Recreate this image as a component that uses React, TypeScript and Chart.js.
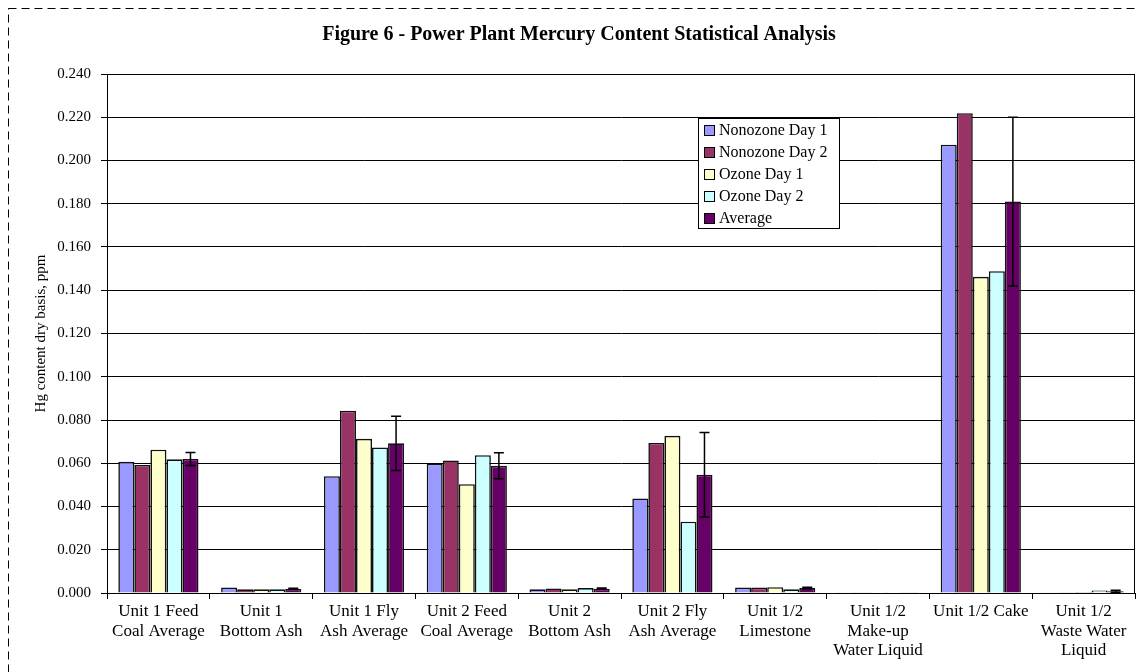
import React, { useEffect, useRef } from "react";
import { Chart, registerables } from "chart.js";

Chart.register(...registerables);

const categories: string[][] = [
  ["Unit 1 Feed", "Coal Average"],
  ["Unit 1", "Bottom Ash"],
  ["Unit 1 Fly", "Ash Average"],
  ["Unit 2 Feed", "Coal Average"],
  ["Unit 2", "Bottom Ash"],
  ["Unit 2 Fly", "Ash Average"],
  ["Unit 1/2", "Limestone"],
  ["Unit 1/2", "Make-up", "Water Liquid"],
  ["Unit 1/2 Cake"],
  ["Unit 1/2", "Waste Water", "Liquid"],
];

const nonozoneDay1 = [0.0607, 0.0025, 0.054, 0.0598, 0.0017, 0.0437, 0.0025, 0.0001, 0.2073, 0.0001];
const nonozoneDay2 = [0.0592, 0.0017, 0.0843, 0.0613, 0.0021, 0.0694, 0.0025, 0.0001, 0.2219, 0.0003];
const ozoneDay1 = [0.0663, 0.0017, 0.0713, 0.0503, 0.0017, 0.0727, 0.0027, 0.0001, 0.1462, 0.0005];
const ozoneDay2 = [0.0618, 0.0017, 0.0673, 0.0637, 0.0023, 0.033, 0.0017, 0.0001, 0.1488, 0.0012];
const average = [0.062, 0.0019, 0.0692, 0.0588, 0.002, 0.0547, 0.0023, 0.0001, 0.181, 0.0008];
const averageError = [0.003, 0.0003, 0.0125, 0.006, 0.0003, 0.0195, 0.0004, 0.0, 0.039, 0.0005];

const seriesNames = ["Nonozone Day 1", "Nonozone Day 2", "Ozone Day 1", "Ozone Day 2", "Average"];
const seriesColors = ["#9999FF", "#993366", "#FFFFCC", "#CCFFFF", "#660066"];
const yTicks = [0, 0.02, 0.04, 0.06, 0.08, 0.1, 0.12, 0.14, 0.16, 0.18, 0.2, 0.22, 0.24];
const chartTitle = "Figure 6 - Power Plant Mercury Content Statistical Analysis";

const SERIF = "'Liberation Serif', 'Times New Roman', serif";

const framePlugin = {
  id: "frame",
  beforeDraw(chart: any) {
    const ctx = chart.ctx;
    ctx.save();
    ctx.fillStyle = "#fff";
    ctx.fillRect(0, 0, chart.width, chart.height);
    ctx.strokeStyle = "#000";
    ctx.lineWidth = 1;
    ctx.setLineDash([8, 5]);
    ctx.strokeRect(8.5, 8.5, 1300, 800);
    ctx.setLineDash([]);
    ctx.fillStyle = "#000";
    ctx.font = `bold 20px ${SERIF}`;
    ctx.textAlign = "center";
    ctx.textBaseline = "middle";
    ctx.fillText(chartTitle, 579, 35);
    ctx.restore();
  },
  afterDraw(chart: any) {
    const { ctx, chartArea } = chart;
    ctx.save();
    ctx.strokeStyle = "#000";
    ctx.lineWidth = 1;
    ctx.strokeRect(chartArea.left + 0.5, chartArea.top + 0.5, chartArea.right - chartArea.left - 1, chartArea.bottom - chartArea.top);
    ctx.restore();
  },
};

const errorBarPlugin = {
  id: "errorBars",
  afterDatasetsDraw(chart: any) {
    const ctx = chart.ctx;
    const idx = chart.data.datasets.length - 1;
    const meta = chart.getDatasetMeta(idx);
    const y = chart.scales.y;
    ctx.save();
    ctx.strokeStyle = "#000";
    ctx.lineWidth = 1.5;
    meta.data.forEach((bar: any, i: number) => {
      const v = average[i];
      const e = averageError[i];
      if (!e) return;
      const yTop = y.getPixelForValue(v + e);
      const yBot = y.getPixelForValue(Math.max(0, v - e));
      const x = bar.x;
      ctx.beginPath();
      ctx.moveTo(x, yTop);
      ctx.lineTo(x, yBot);
      ctx.moveTo(x - 5, yTop);
      ctx.lineTo(x + 5, yTop);
      ctx.moveTo(x - 5, yBot);
      ctx.lineTo(x + 5, yBot);
      ctx.stroke();
    });
    ctx.restore();
  },
};

const legendPlugin = {
  id: "boxLegend",
  afterDraw(chart: any) {
    const ctx = chart.ctx;
    const left = 698;
    const top = 118;
    const w = 141;
    const h = 110;
    ctx.save();
    ctx.fillStyle = "#fff";
    ctx.fillRect(left, top, w, h);
    ctx.strokeStyle = "#000";
    ctx.lineWidth = 1;
    ctx.strokeRect(left + 0.5, top + 0.5, w, h);
    ctx.font = `16px ${SERIF}`;
    ctx.textBaseline = "middle";
    chart.data.datasets.forEach((ds: any, i: number) => {
      const cy = top + 12 + i * 22;
      ctx.fillStyle = ds.backgroundColor;
      ctx.fillRect(left + 6, cy - 5, 10, 10);
      ctx.strokeStyle = "#000";
      ctx.lineWidth = 1;
      ctx.strokeRect(left + 6.5, cy - 4.5, 10, 10);
      ctx.fillStyle = "#000";
      ctx.fillText(ds.label, left + 21, cy + 1);
    });
    ctx.restore();
  },
};

export default function App() {
  const ref = useRef<HTMLCanvasElement | null>(null);

  useEffect(() => {
    if (!ref.current) return;
    const seriesData = [nonozoneDay1, nonozoneDay2, ozoneDay1, ozoneDay2, average];
    const chart = new Chart(ref.current, {
      type: "bar",
      data: {
        labels: categories,
        datasets: seriesNames.map((name, i) => ({
          label: name,
          data: seriesData[i],
          backgroundColor: seriesColors[i],
          borderColor: "#111",
          borderWidth: 1.6,
          categoryPercentage: 0.78,
          barPercentage: 1.0,
        })),
      },
      options: {
        responsive: false,
        animation: false,
        layout: { padding: { left: 0, right: 3, top: 74, bottom: 0 } },
        plugins: {
          legend: { display: false },
          tooltip: { enabled: false },
          title: { display: false },
        },
        scales: {
          x: {
            grid: { display: true, drawOnChartArea: false, drawTicks: true, tickLength: 6, color: "#000", offset: true },
            border: { display: true, color: "#000", width: 1 },
            ticks: { color: "#000", font: { family: SERIF, size: 17, lineHeight: 1.15 }, padding: 3, maxRotation: 0, autoSkip: false },
            afterFit: (s: any) => { s.height = 79; },
          },
          y: {
            min: 0,
            max: 0.24,
            afterBuildTicks: (s: any) => { s.ticks = yTicks.map((v) => ({ value: v })); },
            grid: { color: "#000", lineWidth: 1, drawTicks: true, tickLength: 6 },
            border: { display: true, color: "#000", width: 1 },
            ticks: {
              color: "#000",
              font: { family: SERIF, size: 15 },
              padding: 10,
              callback: (v: any) => Number(v).toFixed(3),
            },
            title: {
              display: true,
              text: "Hg content dry basis, ppm",
              color: "#000",
              font: { family: SERIF, size: 15, lineHeight: 1.2 },
              padding: { top: 32, bottom: 0 },
            },
            afterFit: (s: any) => { s.width = 107; },
          },
        },
      },
      plugins: [framePlugin, errorBarPlugin, legendPlugin],
    });
    return () => chart.destroy();
  }, []);

  return (
    <div style={{ position: "absolute", left: 0, top: 0, width: 1138, height: 672, background: "#fff" }}>
      <canvas ref={ref} width={1138} height={672} style={{ display: "block" }} />
    </div>
  );
}
